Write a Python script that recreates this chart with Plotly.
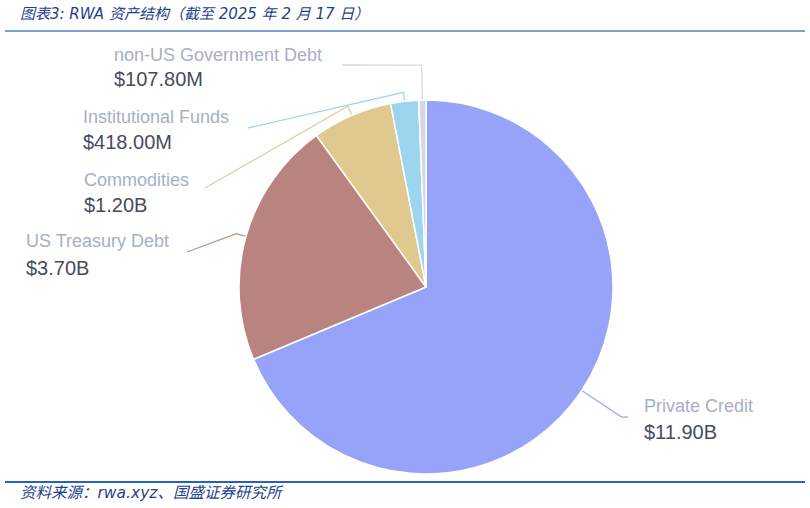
import math
import plotly.graph_objects as go

# ---- data ----
categories = ["Private Credit", "US Treasury Debt", "Commodities",
              "Institutional Funds", "non-US Government Debt"]
values_busd = [11.90, 3.70, 1.20, 0.418, 0.1078]
value_labels = ["$11.90B", "$3.70B", "$1.20B", "$418.00M", "$107.80M"]

title_text = "图表3: RWA 资产结构（截至 2025 年 2 月 17 日）"
source_text = "资料来源：rwa.xyz、国盛证券研究所"

# ---- style / layout ----
W, H = 810, 508
colors = ["#97A3F9", "#B9847F", "#DFC98E", "#9DD5EE", "#D3D8E5"]
line_colors = ["#9FA9F5", "#BE8F8A", "#E3D19C", "#9FD6EE", "#D5DAE6"]
CX, CY, R = 426, 287, 187
# radial first-segment length, end of leader line (pixels), label anchor (pixels)
len1 = [48, 10, 10, 9, 35]
line_end = [(628, 417), (187, 252), (205, 188), (248, 128), (342, 65)]
label_xy = [(642, 406), (24, 241), (82, 180), (81, 117), (112, 55)]
value_dy = [26, 27, 25, 25, 24]

fig = go.Figure()

fig.add_trace(go.Pie(
    labels=categories, values=values_busd, sort=False, direction="clockwise",
    rotation=0, marker=dict(colors=colors, line=dict(color="white", width=1.5)),
    textinfo="none", hoverinfo="skip", showlegend=False,
    domain=dict(x=[(CX - R) / W, (CX + R) / W],
                y=[1 - (CY + R) / H, 1 - (CY - R) / H]),
))

total = sum(values_busd)
cum = 0.0
annotations = []
for i, v in enumerate(values_busd):
    mid = (cum + v / 2) / total * 2 * math.pi
    cum += v
    sx, sy = math.sin(mid), -math.cos(mid)
    ex, ey = CX + R * sx, CY + R * sy
    bx, by = CX + (R + len1[i]) * sx, CY + (R + len1[i]) * sy
    lx, ly = line_end[i]
    fig.add_trace(go.Scatter(
        x=[ex, bx, lx], y=[ey, by, ly], mode="lines",
        line=dict(color=line_colors[i], width=1.3),
        hoverinfo="skip", showlegend=False, xaxis="x", yaxis="y"))
    tx, ty = label_xy[i]
    annotations.append(dict(x=tx, y=ty, xref="x", yref="y", text=categories[i],
                            showarrow=False, xanchor="left", yanchor="middle",
                            font=dict(family="Liberation Sans, Arial", size=18,
                                      color="#A6B0C5")))
    annotations.append(dict(x=tx, y=ty + value_dy[i], xref="x", yref="y",
                            text=value_labels[i], showarrow=False,
                            xanchor="left", yanchor="middle",
                            font=dict(family="Liberation Sans, Arial", size=20,
                                      color="#464C5E")))

annotations.append(dict(x=18, y=14, xref="x", yref="y", text="<i>" + title_text + "</i>",
                        showarrow=False, xanchor="left", yanchor="middle",
                        font=dict(family="DejaVu Sans, Noto Sans CJK SC", size=15,
                                  color="#1F3F8F")))
annotations.append(dict(x=18, y=493, xref="x", yref="y", text="<i>" + source_text + "</i>",
                        showarrow=False, xanchor="left", yanchor="middle",
                        font=dict(family="DejaVu Sans, Noto Sans CJK SC", size=15.5,
                                  color="#1F3F8F")))

shapes = [
    dict(type="line", xref="x", yref="y", x0=5, x1=805, y0=31, y1=31,
         line=dict(color="#7F9FD0", width=2)),
    dict(type="line", xref="x", yref="y", x0=5, x1=805, y0=482, y1=482,
         line=dict(color="#2462BE", width=2)),
]

fig.update_layout(
    width=W, height=H, margin=dict(l=0, r=0, t=0, b=0),
    paper_bgcolor="white", plot_bgcolor="rgba(0,0,0,0)",
    xaxis=dict(range=[0, W], visible=False, fixedrange=True, domain=[0, 1]),
    yaxis=dict(range=[H, 0], visible=False, fixedrange=True, domain=[0, 1]),
    annotations=annotations, shapes=shapes, showlegend=False,
)

fig.write_html("out.html")
